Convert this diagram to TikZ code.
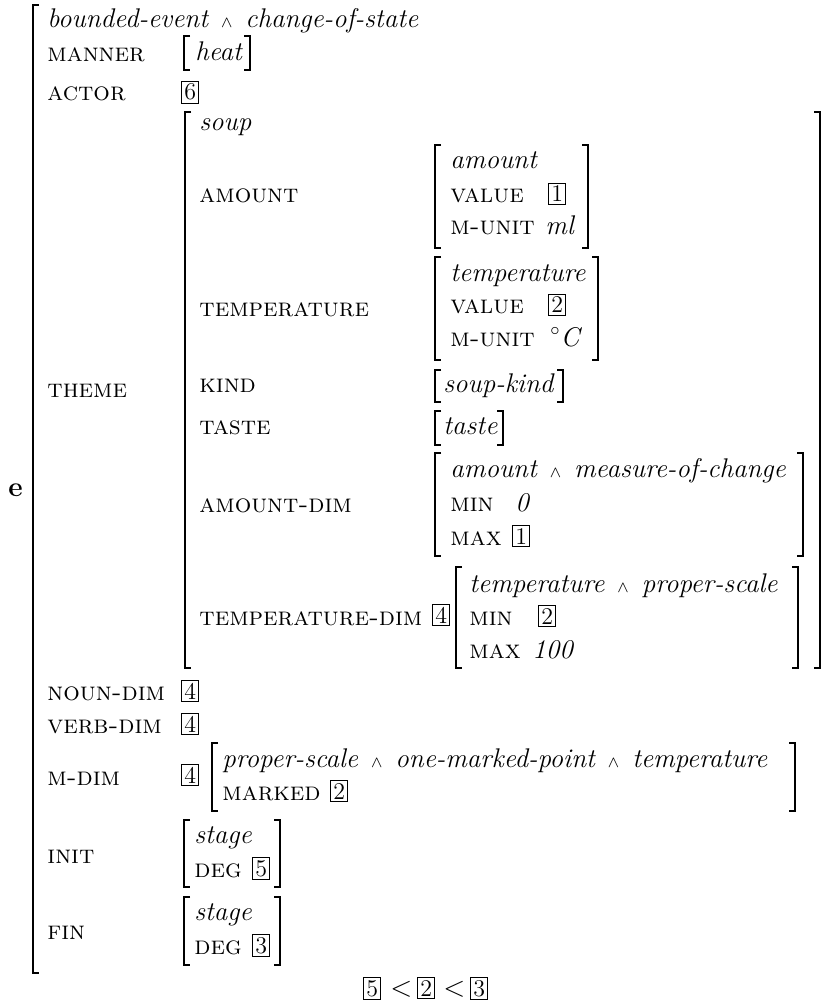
\documentclass[tikz,border=0pt]{standalone}
\usepackage{amsmath}
\usepackage{tikz}
\usetikzlibrary{positioning}

\newcommand\avmsize{\fontsize{13.5}{16}\selectfont}
\newcommand\featsize{\fontsize{13}{16}\selectfont}
\newcommand\AND{\hspace{6.5pt}{\footnotesize$\wedge$}\hspace{6.5pt}}
% brackets: x, top, bottom
\newcommand\avmL[3]{\draw[brak] ({#1+6},#2) -- (#1,#2) -- (#1,#3) -- ({#1+6},#3);}
\newcommand\avmR[3]{\draw[brak] ({#1-6},#2) -- (#1,#2) -- (#1,#3) -- ({#1-6},#3);}

\begin{document}
\begin{tikzpicture}[x=0.5pt,y=-0.5pt,
  feat/.style={anchor=base west,inner sep=0pt,font=\featsize\scshape},
  typ/.style={anchor=base west,inner sep=0pt,font=\avmsize\itshape},
  tag/.style={draw,line width=0.5pt,anchor=base west,inner sep=1.4pt,font=\fontsize{12}{14}\selectfont},
  brak/.style={line width=1.2pt}]
\useasboundingbox (0,0) rectangle (829,1005);

% outer matrix
\node[anchor=base west,inner sep=0pt,font=\fontsize{14}{16}\selectfont\bfseries] (e) at (8,496) {e};
\avmL{33}{5}{973}
\node[typ] (hd) at (47,28) {bounded-event\AND change-of-state};
\node[feat] (man) at (47,62) {manner};
\avmL{184}{36}{70} \avmR{250}{36}{70}
\node[typ] (heat) at (195,61) {heat};
\node[feat] (act) at (47,101) {actor};
\node[tag] (t6) at (181,100) {6};

% theme
\node[feat] (thm) at (47,397) {theme};
\avmL{185}{112}{668} \avmR{820}{112}{668}
\node[typ] (soup) at (199,131) {soup};

\node[feat] (amt) at (199,203) {amount};
\avmL{435}{145}{248} \avmR{588}{145}{248}
\node[typ] (amtt) at (450,169) {amount};
\node[feat] (amtv) at (450,203) {value};
\node[tag] (t1a) at (548,202) {1};
\node[feat] (amtu) at (450,235) {m-unit};
\node[typ] (ml) at (545,235) {ml};

\node[feat] (tmp) at (199,316) {temperature};
\avmL{435}{257}{360} \avmR{598}{257}{360}
\node[typ] (tmpt) at (450,282) {temperature};
\node[feat] (tmpv) at (450,314) {value};
\node[tag] (t2a) at (548,313) {2};
\node[feat] (tmpu) at (450,346) {m-unit};
\node[anchor=base west,inner sep=0pt,font=\avmsize] (degc) at (550,346) {$^\circ$\textit{C}};

\node[feat] (kind) at (199,392) {kind};
\avmL{435}{370}{402} \avmR{563}{370}{402}
\node[typ] (kindv) at (443,392) {soup-kind};

\node[feat] (tst) at (199,434) {taste};
\avmL{435}{411}{445} \avmR{503}{411}{445}
\node[typ] (tstv) at (443,434) {taste};

\node[feat] (adim) at (199,512) {amount-dim};
\avmL{435}{453}{556} \avmR{803}{453}{556}
\node[typ] (adimt) at (450,477) {amount\AND measure-of-change};
\node[feat] (amin) at (450,511) {min};
\node[typ] (amin0) at (515,511) {0};
\node[feat] (amax) at (450,545) {max};
\node[tag] (t1b) at (512,544) {1};

\node[feat] (tdim) at (199,625) {temperature-dim};
\node[tag] (t4a) at (432,623) {4};
\avmL{456}{567}{668} \avmR{798}{567}{668}
\node[typ] (tdimt) at (469,592) {temperature\AND proper-scale};
\node[feat] (tmin) at (469,625) {min};
\node[tag] (t2b) at (538,624) {2};
\node[feat] (tmax) at (469,658) {max};
\node[typ] (tmax100) at (532,658) {100};

% dimensions
\node[feat] (ndim) at (47,700) {noun-dim};
\node[tag] (t4b) at (181,699) {4};
\node[feat] (vdim) at (47,733) {verb-dim};
\node[tag] (t4c) at (181,732) {4};
\node[feat] (mdim) at (47,785) {m-dim};
\node[tag] (t4d) at (181,783) {4};
\avmL{212}{743}{811} \avmR{795}{743}{811}
\node[typ] (mdimt) at (222,767) {proper-scale\AND one-marked-point\AND temperature};
\node[feat] (mark) at (222,800) {marked};
\node[tag] (t2c) at (330,799) {2};

% stages
\node[feat] (init) at (47,863) {init};
\avmL{184}{820}{887} \avmR{280}{820}{887}
\node[typ] (inits) at (194,843) {stage};
\node[feat] (initd) at (194,877) {deg};
\node[tag] (t5a) at (252,876) {5};
\node[feat] (fin) at (47,939) {fin};
\avmL{184}{897}{965} \avmR{280}{897}{965}
\node[typ] (fins) at (194,920) {stage};
\node[feat] (find) at (194,954) {deg};
\node[tag] (t3a) at (252,953) {3};

% ordering
\node[tag] (t5b) at (363,996) {5};
\node[anchor=base west,inner sep=0pt,font=\avmsize] (lt1) at (390,996) {$<$};
\node[tag] (t2d) at (417,996) {2};
\node[anchor=base west,inner sep=0pt,font=\avmsize] (lt2) at (443,996) {$<$};
\node[tag] (t3b) at (470,996) {3};
\end{tikzpicture}
\end{document}
